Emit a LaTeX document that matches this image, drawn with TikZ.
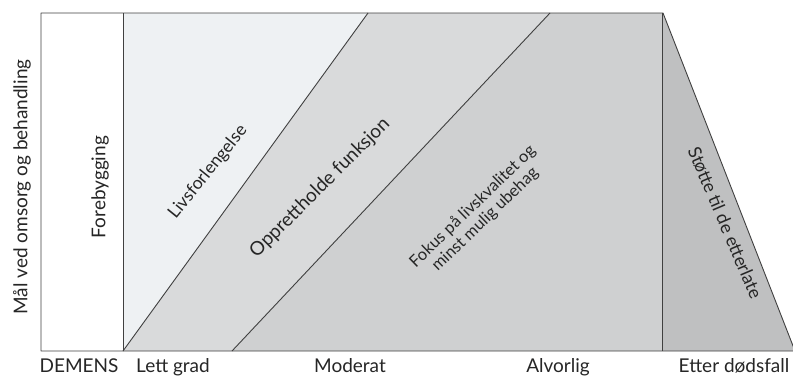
\documentclass[tikz,border=0pt]{standalone}
\usepackage{fontspec}
\setmainfont{Lato}
\begin{document}
\begin{tikzpicture}[x=1pt,y=-1pt,
  edge/.style={draw=black!75,line width=0.9pt,line join=round},
  lbl/.style={font=\fontsize{19}{21}\selectfont,text=black!85,inner sep=0pt},
  axis/.style={font=\fontsize{19}{21}\selectfont,text=black!85,inner sep=0pt,anchor=base}]
\useasboundingbox (0,0) rectangle (793,378);
\definecolor{regA}{HTML}{EEF1F3}
\definecolor{regB}{HTML}{D9DADB}
\definecolor{regC}{HTML}{CFD0D1}
\definecolor{regD}{HTML}{BFC0C1}
% coordinates
\coordinate (TL) at (41,13);
\coordinate (BL) at (41,351);
\coordinate (FT) at (123,13);
\coordinate (FB) at (123,351);
\coordinate (D1T) at (368,13);
\coordinate (D2T) at (550,13);
\coordinate (D2B) at (232,351);
\coordinate (VT) at (662,13);
\coordinate (VB) at (662,351);
\coordinate (TR) at (663,13);
\coordinate (BR) at (795,351);
% fills
\fill[white] (TL) rectangle (FB);
\fill[regA] (FT) -- (D1T) -- (FB) -- cycle;
\fill[regB] (D1T) -- (D2T) -- (D2B) -- (FB) -- cycle;
\fill[regC] (D2T) -- (VT) -- (VB) -- (D2B) -- cycle;
\fill[regD] (VT) -- (TR) -- (BR) -- (VB) -- cycle;
% lines
\draw[edge] (TL) -- (TR) -- (BR) -- (BL) -- cycle;
\draw[edge] (FT) -- (FB);
\draw[edge] (FB) -- (D1T);
\draw[edge] (D2B) -- (D2T);
\draw[edge] (VT) -- (VB);
% texts
\node[lbl,rotate=90] (yax) at (22,187) {Mål ved omsorg og behandling};
\node[lbl,rotate=90] (fore) at (100,187) {Forebygging};
\node[lbl,rotate=51,font=\fontsize{17.5}{20}\selectfont] (livs) at (208,172) {Livsforlengelse};
\node[lbl,rotate=45] (oppr) at (320,188) {Opprettholde funksjon};
\node[lbl,rotate=44,align=center,font=\fontsize{16.5}{18}\selectfont] (fokus) at (479,213) {Fokus på livskvalitet og\\minst mulig ubehag};
\node[lbl,rotate=-67,font=\fontsize{18}{20}\selectfont] (stotte) at (725,223) {Støtte til de etterlate};
\node[axis] (dem) at (79,372) {DEMENS};
\node[axis] (lett) at (173,372) {Lett grad};
\node[axis] (mod) at (350,372) {Moderat};
\node[axis] (alv) at (558,372) {Alvorlig};
\node[axis] (etter) at (734,372) {Etter dødsfall};
\end{tikzpicture}
\end{document}
